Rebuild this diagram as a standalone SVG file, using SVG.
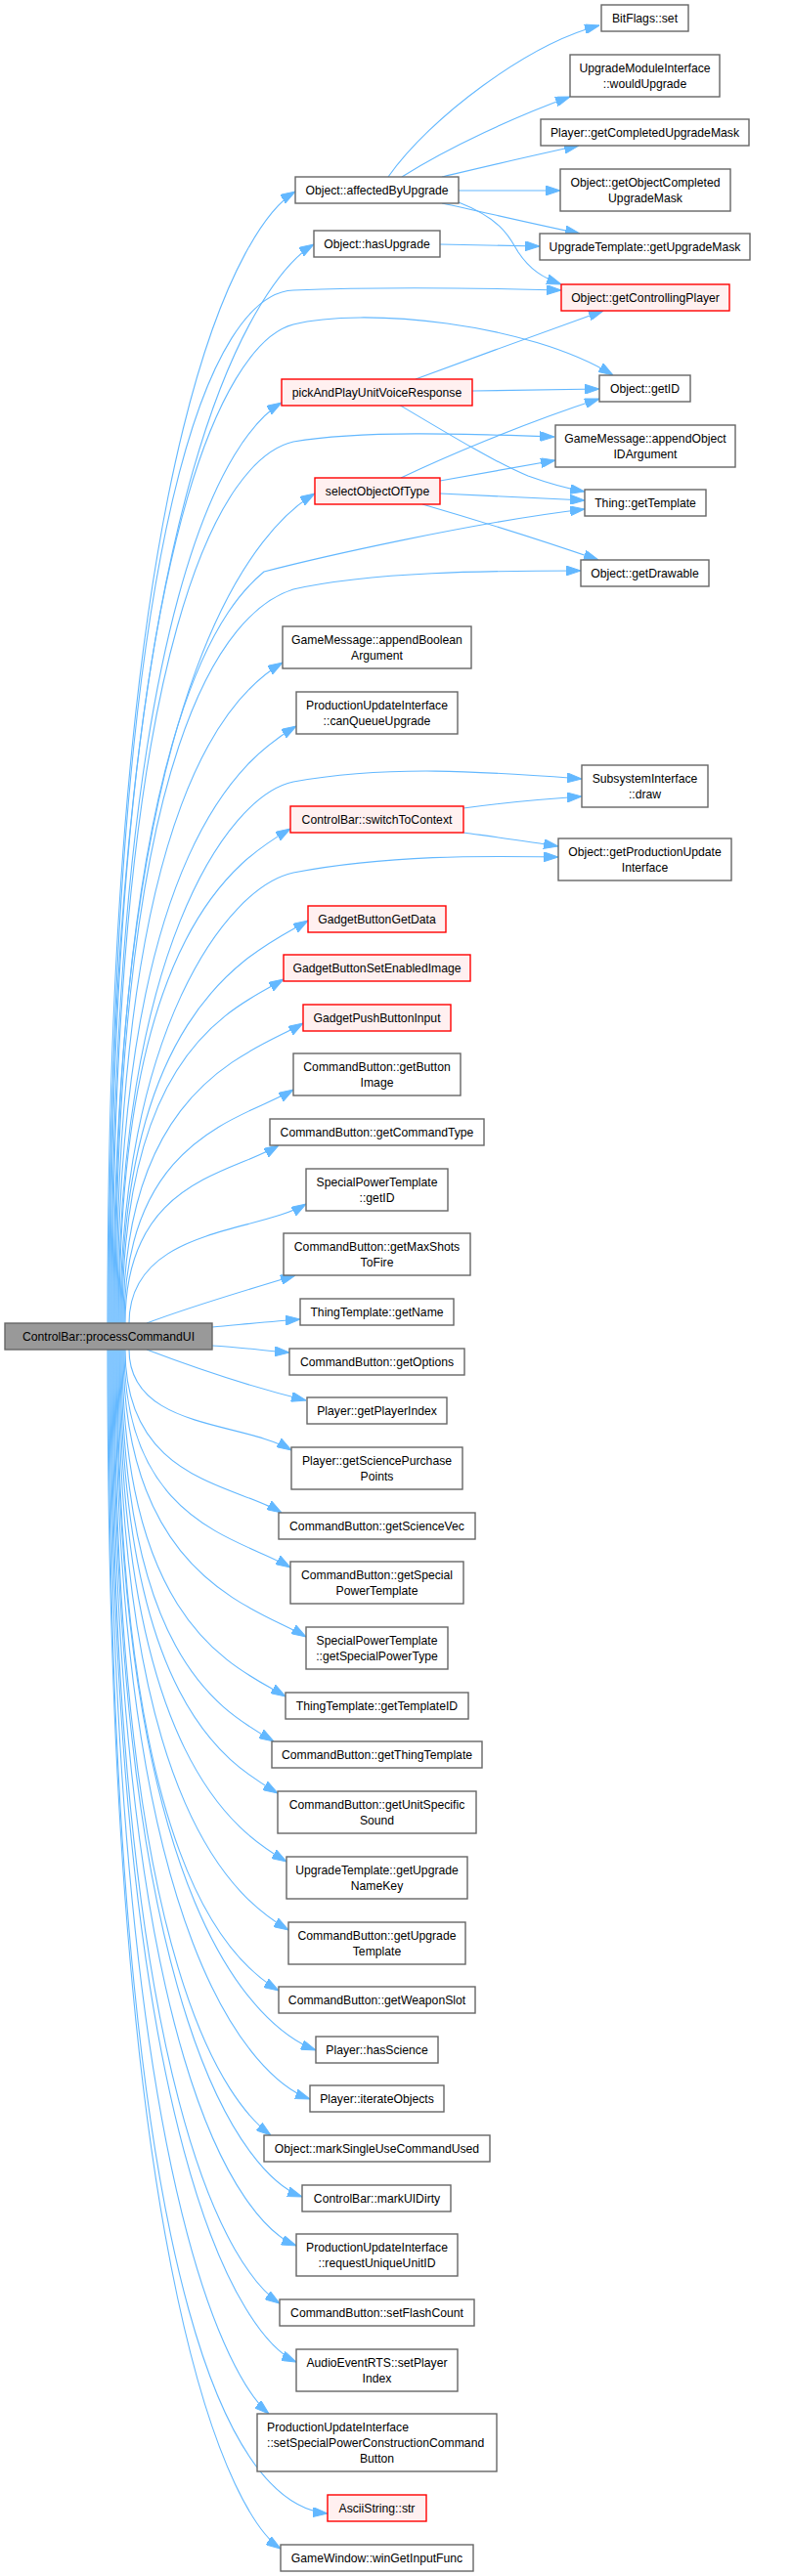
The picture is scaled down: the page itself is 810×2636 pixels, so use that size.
<svg xmlns="http://www.w3.org/2000/svg" width="810" height="2636" viewBox="0 0 810 2636">
<style>
rect{stroke-width:1.4}
.n rect{fill:#ffffff;stroke:#666666}
.r rect{fill:#fff0f0;stroke:#ff0000}
.root rect{fill:#999999;stroke:#666666}
text{font-family:"Liberation Sans",Arial,sans-serif;font-size:12.2px;fill:#000;text-anchor:middle}
text.l{text-anchor:start}
#edges path{fill:none;stroke:#63b8ff;stroke-width:1.1;marker-end:url(#a)}
</style>
<defs>
<marker id="a" viewBox="0 0 15 10" refX="15" refY="5" markerWidth="15" markerHeight="10" markerUnits="userSpaceOnUse" orient="auto">
<path d="M0,0 L15,5 L0,10 z" fill="#63b8ff" stroke="#63b8ff" stroke-width="1"/>
</marker>
</defs>
<rect width="810" height="2636" fill="#ffffff"/>
<g id="edges">
<path d="M110,1354 C110,428 252,226 302,196"/>
<path d="M111,1354 C111,471 271,280 321,250"/>
<path d="M112,1354 C112,520 220,300 300,297 C400,293 500,295 574,297"/>
<path d="M113,1354 C113,560 230,350 300,332 C370,314 540,330 627,384"/>
<path d="M114,1354 C114,600 238,442 288,412"/>
<path d="M115,1354 C115,640 230,468 300,452 C370,440 480,444 567,447"/>
<path d="M116,1354 C116,675 272,535 322,505"/>
<path d="M117,1354 C117,720 240,610 270,585 C320,572 480,535 598,521"/>
<path d="M118,1354 C118,760 230,625 300,603 C380,585 500,584 594,584"/>
<path d="M119,1354 C119,813 239,708 289,678"/>
<path d="M120,1354 C120,865 253,773 303,743"/>
<path d="M121,1354 C121,980 230,815 300,800 C400,782 500,790 595,797"/>
<path d="M122,1354 C122,949 247,878 297,848"/>
<path d="M123,1354 C123,1060 230,908 300,893 C400,874 500,876 571,877"/>
<path d="M124,1354 C124,1024 265,972 315,942"/>
<path d="M125,1354 C125,1072 240,1032 290,1002"/>
<path d="M126,1354 C126,1108 260,1077 310,1047"/>
<path d="M127,1354 C127,1163 250,1145 300,1115"/>
<path d="M128,1354 C128,1208 235,1202 285,1172"/>
<path d="M132,1354 C132,1256 263,1262 313,1232"/>
<path d="M150,1354 C200,1335 260,1318 302,1305"/>
<path d="M217,1358 C250,1355 280,1352 307,1350"/>
<path d="M217,1377 C250,1379 270,1382 296,1384"/>
<path d="M150,1381 C200,1400 260,1420 313,1433"/>
<path d="M132,1381 C132,1463 248,1454 298,1484"/>
<path d="M128,1381 C128,1515 238,1518 288,1548"/>
<path d="M127,1381 C127,1559 247,1574 297,1604"/>
<path d="M126,1381 C126,1616 263,1645 313,1675"/>
<path d="M125,1381 C125,1665 242,1706 292,1736"/>
<path d="M124,1381 C124,1702 230,1752 280,1782"/>
<path d="M123,1381 C123,1744 234,1805 284,1835"/>
<path d="M122,1381 C122,1800 243,1875 293,1905"/>
<path d="M121,1381 C121,1856 245,1945 295,1975"/>
<path d="M120,1381 C120,1906 235,2007 285,2037"/>
<path d="M119,1381 C119,1955 265,2076 323,2098"/>
<path d="M118,1381 C118,1995 262,2128 317,2148"/>
<path d="M117,1381 C117,2024 237,2155 277,2185"/>
<path d="M116,1381 C116,2075 254,2228 309,2248"/>
<path d="M115,1381 C115,2115 248,2276 303,2298"/>
<path d="M114,1381 C114,2162 241,2327 286,2357"/>
<path d="M113,1381 C113,2210 250,2393 303,2417"/>
<path d="M112,1381 C112,2252 240,2440 275,2470"/>
<path d="M111,1381 C111,2420 255,2565 335,2572"/>
<path d="M110,1381 C110,2363 242,2578 287,2608"/>
<path d="M397,181 C440,120 540,45 613,26"/>
<path d="M411,181 C460,150 530,118 583,99"/>
<path d="M452,181 C490,172 540,160 592,149"/>
<path d="M469,195 L573,195"/>
<path d="M452,208 C490,216 540,228 593,239"/>
<path d="M469,207 C515,225 522,245 530,258 C542,276 555,284 574,291"/>
<path d="M450,250 L552,252"/>
<path d="M425,388 C490,364 550,342 617,318"/>
<path d="M483,400 L613,398"/>
<path d="M408,414 C460,445 510,475 540,487 C565,496 580,500 598,503"/>
<path d="M410,489 C450,470 530,435 613,408"/>
<path d="M450,492 C490,485 530,478 568,471"/>
<path d="M450,505 L598,512"/>
<path d="M432,516 C480,530 560,555 612,573"/>
<path d="M474,827 C510,822 550,818 595,815"/>
<path d="M474,852 C510,857 540,861 571,866"/>
</g>
<g id="root" class="root"><rect x="5" y="1354" width="212" height="27"/><text x="111" y="1371.5">ControlBar::processCommandUI</text></g>
<g id="n_affected" class="n"><rect x="302" y="181" width="167" height="27"/><text x="385.5" y="198.5">Object::affectedByUpgrade</text></g>
<g id="n_hasUpgrade" class="n"><rect x="321" y="236" width="129" height="27"/><text x="385.5" y="253.5">Object::hasUpgrade</text></g>
<g id="n_pick" class="r"><rect x="288" y="388" width="195" height="27"/><text x="385.5" y="405.5">pickAndPlayUnitVoiceResponse</text></g>
<g id="n_select" class="r"><rect x="322" y="489" width="128" height="27"/><text x="386" y="506.5">selectObjectOfType</text></g>
<g id="n_appendBool" class="n"><rect x="289" y="641" width="193" height="43"/><text x="385.5" y="659">GameMessage::appendBoolean</text><text x="385.5" y="675">Argument</text></g>
<g id="n_canQueue" class="n"><rect x="303" y="708" width="165" height="43"/><text x="385.5" y="726">ProductionUpdateInterface</text><text x="385.5" y="742">::canQueueUpgrade</text></g>
<g id="n_switch" class="r"><rect x="297" y="825" width="177" height="27"/><text x="385.5" y="842.5">ControlBar::switchToContext</text></g>
<g id="n_getData" class="r"><rect x="315" y="927" width="141" height="27"/><text x="385.5" y="944.5">GadgetButtonGetData</text></g>
<g id="n_setEnabled" class="r"><rect x="290" y="977" width="191" height="27"/><text x="385.5" y="994.5">GadgetButtonSetEnabledImage</text></g>
<g id="n_pushInput" class="r"><rect x="310" y="1028" width="151" height="27"/><text x="385.5" y="1045.5">GadgetPushButtonInput</text></g>
<g id="n_buttonImage" class="n"><rect x="300" y="1078" width="171" height="43"/><text x="385.5" y="1096">CommandButton::getButton</text><text x="385.5" y="1112">Image</text></g>
<g id="n_cmdType" class="n"><rect x="276" y="1145" width="219" height="27"/><text x="385.5" y="1162.5">CommandButton::getCommandType</text></g>
<g id="n_spID" class="n"><rect x="313" y="1196" width="145" height="43"/><text x="385.5" y="1214">SpecialPowerTemplate</text><text x="385.5" y="1230">::getID</text></g>
<g id="n_maxShots" class="n"><rect x="290" y="1262" width="191" height="43"/><text x="385.5" y="1280">CommandButton::getMaxShots</text><text x="385.5" y="1296">ToFire</text></g>
<g id="n_getName" class="n"><rect x="307" y="1329" width="157" height="27"/><text x="385.5" y="1346.5">ThingTemplate::getName</text></g>
<g id="n_getOptions" class="n"><rect x="296" y="1380" width="179" height="27"/><text x="385.5" y="1397.5">CommandButton::getOptions</text></g>
<g id="n_playerIndex" class="n"><rect x="314" y="1430" width="143" height="27"/><text x="385.5" y="1447.5">Player::getPlayerIndex</text></g>
<g id="n_sciencePts" class="n"><rect x="298" y="1481" width="175" height="43"/><text x="385.5" y="1499">Player::getSciencePurchase</text><text x="385.5" y="1515">Points</text></g>
<g id="n_scienceVec" class="n"><rect x="285" y="1548" width="201" height="27"/><text x="385.5" y="1565.5">CommandButton::getScienceVec</text></g>
<g id="n_spTemplate" class="n"><rect x="297" y="1598" width="177" height="43"/><text x="385.5" y="1616">CommandButton::getSpecial</text><text x="385.5" y="1632">PowerTemplate</text></g>
<g id="n_spType" class="n"><rect x="313" y="1665" width="145" height="43"/><text x="385.5" y="1683">SpecialPowerTemplate</text><text x="385.5" y="1699">::getSpecialPowerType</text></g>
<g id="n_templateID" class="n"><rect x="292" y="1732" width="187" height="27"/><text x="385.5" y="1749.5">ThingTemplate::getTemplateID</text></g>
<g id="n_thingTemplate" class="n"><rect x="278" y="1782" width="215" height="27"/><text x="385.5" y="1799.5">CommandButton::getThingTemplate</text></g>
<g id="n_unitSound" class="n"><rect x="284" y="1833" width="203" height="43"/><text x="385.5" y="1851">CommandButton::getUnitSpecific</text><text x="385.5" y="1867">Sound</text></g>
<g id="n_nameKey" class="n"><rect x="293" y="1900" width="185" height="43"/><text x="385.5" y="1918">UpgradeTemplate::getUpgrade</text><text x="385.5" y="1934">NameKey</text></g>
<g id="n_upgradeTemplate" class="n"><rect x="295" y="1967" width="181" height="43"/><text x="385.5" y="1985">CommandButton::getUpgrade</text><text x="385.5" y="2001">Template</text></g>
<g id="n_weaponSlot" class="n"><rect x="285" y="2033" width="201" height="27"/><text x="385.5" y="2050.5">CommandButton::getWeaponSlot</text></g>
<g id="n_hasScience" class="n"><rect x="323" y="2084" width="125" height="27"/><text x="385.5" y="2101.5">Player::hasScience</text></g>
<g id="n_iterate" class="n"><rect x="317" y="2134" width="137" height="27"/><text x="385.5" y="2151.5">Player::iterateObjects</text></g>
<g id="n_markSingle" class="n"><rect x="270" y="2185" width="231" height="27"/><text x="385.5" y="2202.5">Object::markSingleUseCommandUsed</text></g>
<g id="n_markDirty" class="n"><rect x="309" y="2236" width="152" height="27"/><text x="385.5" y="2253.5">ControlBar::markUIDirty</text></g>
<g id="n_requestID" class="n"><rect x="303" y="2286" width="165" height="43"/><text x="385.5" y="2304">ProductionUpdateInterface</text><text x="385.5" y="2320">::requestUniqueUnitID</text></g>
<g id="n_flash" class="n"><rect x="286" y="2353" width="199" height="27"/><text x="385.5" y="2370.5">CommandButton::setFlashCount</text></g>
<g id="n_audio" class="n"><rect x="303" y="2404" width="165" height="43"/><text x="385.5" y="2422">AudioEventRTS::setPlayer</text><text x="385.5" y="2438">Index</text></g>
<g id="n_setSP" class="n"><rect x="263" y="2470" width="245" height="59"/><text class="l" x="273" y="2488">ProductionUpdateInterface</text><text class="l" x="273" y="2504">::setSpecialPowerConstructionCommand</text><text x="385.5" y="2520">Button</text></g>
<g id="n_str" class="r"><rect x="335" y="2553" width="101" height="27"/><text x="385.5" y="2570.5">AsciiString::str</text></g>
<g id="n_winInput" class="n"><rect x="287" y="2604" width="197" height="27"/><text x="385.5" y="2621.5">GameWindow::winGetInputFunc</text></g>
<g id="n_bitflags" class="n"><rect x="615" y="5" width="89" height="27"/><text x="659.5" y="22.5">BitFlags::set</text></g>
<g id="n_would" class="n"><rect x="583" y="56" width="153" height="43"/><text x="659.5" y="74">UpgradeModuleInterface</text><text x="659.5" y="90">::wouldUpgrade</text></g>
<g id="n_playerMask" class="n"><rect x="553" y="122" width="213" height="27"/><text x="659.5" y="139.5">Player::getCompletedUpgradeMask</text></g>
<g id="n_objMask" class="n"><rect x="573" y="173" width="174" height="43"/><text x="660" y="191">Object::getObjectCompleted</text><text x="660" y="207">UpgradeMask</text></g>
<g id="n_upMask" class="n"><rect x="552" y="239" width="215" height="27"/><text x="659.5" y="256.5">UpgradeTemplate::getUpgradeMask</text></g>
<g id="n_ctrlPlayer" class="r"><rect x="574" y="291" width="172" height="27"/><text x="660" y="308.5">Object::getControllingPlayer</text></g>
<g id="n_getID" class="n"><rect x="613" y="384" width="93" height="27"/><text x="659.5" y="401.5">Object::getID</text></g>
<g id="n_appendObjID" class="n"><rect x="568" y="435" width="184" height="43"/><text x="660" y="453">GameMessage::appendObject</text><text x="660" y="469">IDArgument</text></g>
<g id="n_getTemplate" class="n"><rect x="598" y="501" width="124" height="27"/><text x="660" y="518.5">Thing::getTemplate</text></g>
<g id="n_getDrawable" class="n"><rect x="594" y="573" width="131" height="27"/><text x="659.5" y="590.5">Object::getDrawable</text></g>
<g id="n_draw" class="n"><rect x="595" y="783" width="129" height="43"/><text x="659.5" y="801">SubsystemInterface</text><text x="659.5" y="817">::draw</text></g>
<g id="n_prodUpdate" class="n"><rect x="571" y="858" width="177" height="43"/><text x="659.5" y="876">Object::getProductionUpdate</text><text x="659.5" y="892">Interface</text></g>
</svg>
